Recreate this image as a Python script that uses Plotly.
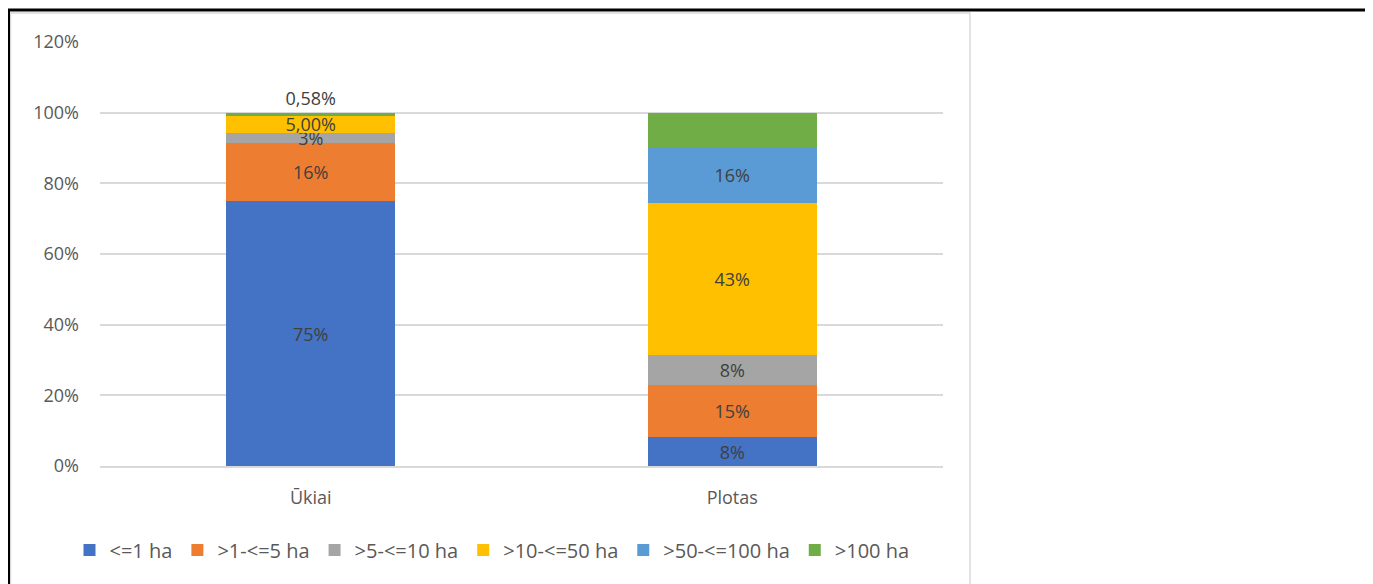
import plotly.graph_objects as go

categories = ["Ūkiai", "Plotas"]
series_names = ["<=1 ha", ">1-<=5 ha", ">5-<=10 ha", ">10-<=50 ha", ">50-<=100 ha", ">100 ha"]
le1 = [75.0, 8.2]
g1_5 = [16.4, 14.7]
g5_10 = [2.8, 8.5]
g10_50 = [5.0, 43.0]
g50_100 = [0.22, 15.8]
g100 = [0.58, 9.8]
labels_le1 = ["75%", "8%"]
labels_1_5 = ["16%", "15%"]
labels_5_10 = ["3%", "8%"]
labels_10_50 = ["5,00%", "43%"]
labels_50_100 = ["", "16%"]
labels_100 = ["0,58%", ""]
y_ticks = [0, 20, 40, 60, 80, 100, 120]
y_tick_labels = ["0%", "20%", "40%", "60%", "80%", "100%", "120%"]

colors = ["#4472C4", "#ED7D31", "#A5A5A5", "#FFC000", "#5B9BD5", "#70AD47"]
values = [le1, g1_5, g5_10, g10_50, g50_100, g100]
labels = [labels_le1, labels_1_5, labels_5_10, labels_10_50, labels_50_100, labels_100]

FONT = "Open Sans"
FS = 18
fig = go.Figure()
for i, (name, vals, labs) in enumerate(zip(series_names, values, labels)):
    if i == len(series_names) - 1:
        tpos = ["outside", "none"]
    else:
        tpos = "inside"
    fig.add_trace(go.Bar(
        x=categories, y=vals, name=name, text=labs,
        marker=dict(color=colors[i], line=dict(width=0)),
        textposition=tpos, insidetextanchor="middle",
        textfont=dict(color="#404040", size=FS, family=FONT),
        outsidetextfont=dict(color="#404040", size=FS, family=FONT),
        cliponaxis=False, hoverinfo="skip",
    ))

# page has an 8px body margin, so the figure is drawn 8px in from the corner
OFF = 8
W, H = 1373 - OFF, 584 - OFF
L, R, T, B = 100 - OFF, 943 - OFF, 42 - OFF, 466 - OFF

def px(x):
    return (x - OFF - L) / (R - L)

def py(y):
    return (B - (y - OFF)) / (B - T)

shapes = [
    dict(type="rect", xref="paper", yref="paper", x0=px(10.5), x1=px(970), y0=py(600), y1=py(13),
         line=dict(color="#D9D9D9", width=1.5), fillcolor="rgba(0,0,0,0)", layer="below"),
    dict(type="line", xref="paper", yref="paper", x0=px(0), x1=px(1380), y0=py(10), y1=py(10),
         line=dict(color="black", width=3)),
    dict(type="line", xref="paper", yref="paper", x0=px(8.5), x1=px(8.5), y0=py(600), y1=py(9),
         line=dict(color="black", width=3)),
]

fig.update_layout(
    barmode="stack", bargap=0.6,
    width=W, height=H,
    margin=dict(l=L, r=W - R, t=T, b=H - B, pad=0),
    paper_bgcolor="white", plot_bgcolor="white",
    font=dict(family=FONT, color="#595959", size=FS),
    uniformtext=dict(minsize=FS, mode="show"),
    shapes=shapes,
    legend=dict(orientation="h", x=px(492), xanchor="center", y=py(550), yanchor="middle",
                font=dict(size=20, color="#595959", family=FONT), traceorder="normal",
                itemwidth=30, tracegroupgap=0),
    showlegend=True,
)
fig.update_yaxes(range=[0, 120], tickvals=y_ticks, ticktext=y_tick_labels,
                 showgrid=True, gridcolor="#D9D9D9", gridwidth=1.5, zeroline=False,
                 showline=False, ticks="", ticklabelstandoff=20,
                 tickfont=dict(size=FS, color="#595959", family=FONT))
fig.update_xaxes(showline=True, linecolor="#D9D9D9", linewidth=1.5, ticks="",
                 ticklabelstandoff=15, tickfont=dict(size=FS, color="#595959", family=FONT))

fig.write_html("out.html")
